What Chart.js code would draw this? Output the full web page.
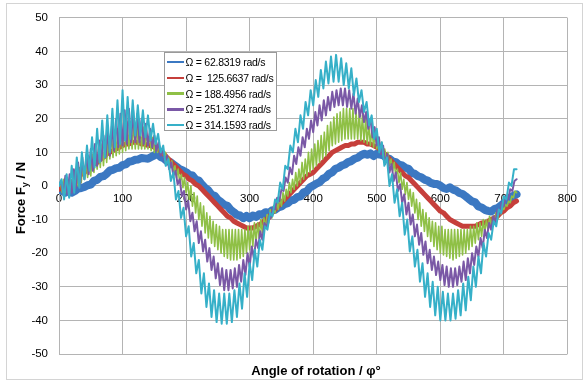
<!DOCTYPE html>
<html>
<head>
<meta charset="utf-8">
<script src="https://cdn.jsdelivr.net/npm/chart.js@4/dist/chart.umd.min.js"></script>
<style>
  html, body { margin: 0; padding: 0; background: #fff; }
  #wrap { position: relative; width: 583px; height: 381px; overflow: hidden;
          font-family: "Liberation Sans", Arial, sans-serif; color: #000; }
  #chart { position: absolute; left: 0; top: 0; }
  #frame { position: absolute; left: 6px; top: 3px; width: 575px; height: 375px;
           border: 1px solid #d4d4d4; pointer-events: none; }
  .title { position: absolute; font-weight: bold; font-size: 13px; white-space: nowrap; }
  .title sub { font-size: 9px; vertical-align: -3px; line-height: 0; }
  #ytitle { left: 20px; top: 198px; transform: translate(-50%, -50%) rotate(-90deg); }
  #xtitle { left: 316px; top: 370px; transform: translate(-50%, -50%); }
  #legend { position: absolute; left: 164px; top: 52px; width: 111px; height: 77px;
            border: 1px solid #9a9a9a; background: #fff; }
  .item { position: absolute; left: 2px; height: 14px; display: flex; align-items: center;
          font-size: 10.5px; letter-spacing: -0.25px; white-space: pre; }
  .sw { width: 17px; height: 2.5px; margin-right: 1.5px; flex: none; }
</style>
</head>
<body>
<div id="wrap">
  <canvas id="chart" width="583" height="381"></canvas>
  <div id="frame"></div>
  <div id="ytitle" class="title">Force F<sub>y</sub> / N</div>
  <div id="xtitle" class="title">Angle of rotation / φ°</div>
  <div id="legend"></div>
</div>
<script>
// Axis ticks
const xTickValues = [0, 100, 200, 300, 400, 500, 600, 700, 800];
const yTickValues = [-50, -40, -30, -20, -10, 0, 10, 20, 30, 40, 50];

// Series names (angular speed)
const seriesLabels = [
  'Ω = 62.8319 rad/s',
  'Ω =  125.6637 rad/s',
  'Ω = 188.4956 rad/s',
  'Ω = 251.3274 rad/s',
  'Ω = 314.1593 rad/s'
];

// Angle spacing of the samples in each series (degrees)
const stepOmega1 = 5;
const stepOmega2 = 5;
const stepOmega3 = 2.5;
const stepOmega4 = 10 / 3;
const stepOmega5 = 4;

// Force Fy [N], Ω = 62.8319 rad/s
const forceOmega1 = [
  -1, -1.5, -2, -1.2, -2, -1.5, -0.8, -0.6, -0.3, 0.2,
  0.4, 1.5, 1.8, 2.7, 2.9, 3.6, 4.6, 4.8, 5.3, 5.4,
  6.2, 6.4, 7.2, 7.4, 7.8, 7.9, 8.3, 8.2, 8.1, 8.6,
  9.1, 9.6, 8.6, 8.2, 7.4, 7.1, 6.4, 5.7, 5, 4.6,
  4.1, 3.3, 3.1, 1.9, 1.6, 0.4, -0.6, -1.3, -2.6, -2.9,
  -4.1, -4.8, -5.6, -5.9, -7.1, -7.8, -8.6, -8.8, -9.6, -8.9,
  -9.6, -8.8, -9.2, -8.4, -8.6, -7.8, -8.1, -7.3, -7.1, -6.4,
  -6.1, -5.4, -5.1, -4.3, -4.1, -3.3, -3.1, -1.9, -1.6, -0.4,
  0.1, 0.7, 1.1, 2.1, 2.6, 3.6, 4.1, 5.1, 5.4, 6.1,
  6.4, 7.1, 7.4, 8.1, 8.4, 9.1, 9.6, 9.3, 9.7, 8.9,
  9.6, 9.3, 9.1, 8.4, 8.1, 7.3, 7.1, 6.3, 6.1, 5.4,
  5.1, 3.9, 3.6, 2.9, 2.6, 1.9, 1.6, 0.9, 0.6, 0.6,
  0.1, -0.6, -0.9, -0.4, -1.1, -1.4, -2.1, -2.4, -3.1, -3.9,
  -4.6, -4.9, -6.1, -6.4, -7.1, -7.4, -7.6, -6.9, -6.6, -5.9,
  -5.1, -4.4, -3.6, -2.9, -2.5
];

// Force Fy [N], Ω = 125.6637 rad/s
const forceOmega2 = [
  -1, -0.5, 0, 0.5, 1, 2, 2.5, 3.5, 4, 5,
  5.5, 6.5, 7, 8, 8.5, 9.5, 10, 10.5, 11, 11.5,
  12, 12.5, 12.5, 13, 13, 13, 12.5, 12.5, 12, 12,
  11.5, 11, 10.5, 9.5, 8.5, 7.5, 6.5, 5.5, 4.5, 3.5,
  3, 2, 1.5, 0.5, 0, -1, -2, -3, -4, -5,
  -6, -7, -8, -9, -9.5, -10.5, -11, -11.5, -12, -12.5,
  -12.5, -12.5, -12, -11.5, -11, -10, -9.5, -8, -7, -6,
  -5, -4, -3, -2, -1, 0, 1, 2, 3, 3.5,
  4, 5, 6, 7, 8, 9, 10, 10.5, 11, 11.5,
  12, 12, 12.5, 12.5, 13, 13, 13, 12.5, 12.5, 12,
  11.5, 11, 10, 9, 8, 7, 6, 5, 4, 3,
  2.5, 1.5, 0.5, -0.5, -1.5, -2.5, -3.5, -4.5, -5.5, -6.5,
  -7.5, -8, -9, -10, -10.5, -11, -11.5, -12, -12, -12,
  -12, -12, -11.5, -11, -11, -10.5, -10, -9.5, -9, -8,
  -7.5, -6.5, -6, -5, -4.5
];

// Force Fy [N], Ω = 188.4956 rad/s
const forceOmega3 = [
  0, 1, -2, 2, -2, 2, -1.5, 3,
  -1, 3.5, -0.5, 4.5, 0, 5.5, 1, 6.5,
  2, 7.5, 2.5, 8.5, 3, 9.5, 4, 10.5,
  5, 11.5, 5.5, 12.5, 6, 13.5, 7, 14.5,
  8, 15.5, 8.5, 16.5, 9, 17, 9.5, 18,
  10, 18, 10.5, 19, 11, 19, 11, 19,
  11, 19, 11, 18, 11, 17.5, 11, 16.5,
  11, 15.5, 10.5, 14.5, 10, 13.5, 10, 12.5,
  10, 11, 8.5, 10, 7, 8.5, 5.5, 7.5,
  4, 6, 2.5, 5, 1, 3.5, -0.5, 2.5,
  -2, 1, -4, 0, -6, -2, -8, -3,
  -10, -5, -12, -6, -14, -8, -15.5, -9,
  -17, -10.5, -18, -11.5, -19, -12, -20, -13,
  -21, -13, -21.5, -13, -22, -13, -22, -13,
  -22, -13, -21.5, -13, -21, -13, -20, -12,
  -19, -12, -18, -11, -17, -11, -15.5, -10,
  -14, -9.5, -12.5, -8.5, -11, -7, -9.5, -6,
  -8, -4.5, -7, -3.5, -6, -2, -4.5, -1,
  -3, 1, -2, 2, -1, 4, 0, 5,
  1, 7, 2, 8, 3, 10, 4, 11,
  5, 12.5, 6, 13.5, 7, 15, 8, 16,
  9, 18, 10.5, 19, 12, 20.5, 12.5, 21.5,
  13, 22, 13.5, 23, 14, 23, 14, 23,
  14, 23, 14, 22, 14, 22, 13.5, 21,
  13, 20, 12.5, 18.5, 12, 17, 11.5, 16,
  11, 14, 10, 13, 9, 11, 7.5, 10,
  6, 8, 4.5, 7, 3, 5, 1, 4,
  -1, 2, -2.5, 1, -4, -1, -6, -2,
  -8, -4, -10, -5, -12, -7, -13.5, -8,
  -15, -9.5, -16.5, -10.5, -18, -11, -19, -12,
  -20, -12, -20.5, -13, -21, -13, -21.5, -13,
  -22, -13, -21.5, -13, -21, -13, -20.5, -13,
  -20, -13, -19, -12, -18, -12, -17, -11,
  -16, -11, -15, -10, -14, -10, -13, -9,
  -12, -9, -11, -8, -10, -7.5, -8.5, -6.5,
  -7, -5.5, -6, -4.5, -5, -3, -3.5, -1.5,
  -2
];

// Force Fy [N], Ω = 251.3274 rad/s
const forceOmega4 = [
  0, 1.5, -2.5, 3, -2.5, 3.5, -2, 5, -0.5, 7, 0.5, 8.5,
  2, 9.5, 3.5, 11, 4.5, 12.5, 6, 13.5, 7.5, 15, 8.5, 16.5,
  9, 18, 10.5, 20, 11.5, 21.5, 12, 22.5, 12.5, 23, 13, 22.5,
  13, 21.5, 13, 20, 12.5, 18.5, 12, 17, 11.5, 15, 10.5, 13,
  9, 11, 7, 9, 5, 7, 3, 4.5, 0.5, 2, -3, -1.5,
  -7, -4.5, -10.5, -8, -13.5, -10.5, -17, -13.5, -19.5, -16, -22.5, -18.5,
  -25, -21, -27.5, -23, -29.5, -24.5, -31, -25, -31, -25, -30.5, -24.5,
  -30, -23.5, -28.5, -22, -26.5, -20, -24, -18, -21.5, -16, -18.5, -13.5,
  -16, -11, -12.5, -9, -9.5, -6.5, -7, -3.5, -4.5, -1, -1.5, 2.5,
  1, 5.5, 3.5, 9, 6.5, 11.5, 9, 14.5, 11.5, 17, 14, 19.5,
  16, 22, 18, 24, 19.5, 25.5, 21, 26.5, 22.5, 28, 23.5, 28.5,
  24, 29, 24, 29, 23.5, 28.5, 23, 27.5, 21.5, 26, 20.5, 24,
  19, 22, 17, 20, 14.5, 17.5, 12, 14.5, 9.5, 12, 6.5, 9.5,
  4, 6.5, 1.5, 4, -1.5, 0.5, -5, -2.5, -8.5, -5, -11.5, -8.5,
  -15, -11.5, -17.5, -14, -20.5, -16.5, -23, -19, -25, -21, -26.5, -22.5,
  -28, -23.5, -29.5, -24, -30, -24.5, -30, -24.5, -29.5, -24, -28.5, -22.5,
  -28, -21.5, -26, -20, -23.5, -18, -21, -15.5, -18.5, -13, -15.5, -11,
  -13, -9, -11, -7, -8.5, -5, -6, -3, -4, -1, -1.5, 1.5,
  2
];

// Force Fy [N], Ω = 314.1593 rad/s
const forceOmega5 = [
  0, 2, -4, 3.5, -3.5, 6, -2, 8.5, -0.5, 10,
  2, 12, 4.5, 14.5, 5.5, 17, 7, 19.5, 8.5, 21,
  10, 23, 11.5, 25.5, 12.5, 28.5, 13.5, 26.5, 14, 25.5,
  15, 24, 15, 22.5, 14.5, 21, 13.5, 18.5, 12.5, 15.5,
  10, 12, 6, 8, 1.5, 4, -4, -1.5, -9.5, -6.5,
  -15, -12, -21, -17, -26, -22, -32, -26, -36, -29,
  -39, -31, -40.5, -32, -41, -32, -41, -32, -40.5, -31,
  -39, -29, -36.5, -26, -33, -23, -28, -19, -24, -16,
  -19, -12, -13, -8, -9, -4, -5, 1, -1, 6,
  5, 12, 10, 17, 13, 21, 17, 25, 21, 28.5,
  24, 31.5, 26.5, 34.5, 29, 37, 30.5, 38.5, 31, 39,
  31, 38, 30, 36.5, 29, 35, 27, 32, 25, 28.5,
  22, 25, 18, 21, 14, 17, 10, 13, 6, 8.5,
  0, 3.5, -5, -1, -9, -5, -14.5, -10, -19.5, -15,
  -24, -19, -28.5, -23, -33, -26, -36, -28.5, -38.5, -30,
  -40, -31.5, -40, -32, -40, -32, -39.5, -31, -38.5, -29,
  -37, -27, -34, -24, -30, -21, -26, -17, -21, -14,
  -16, -10.5, -12, -7, -8, -3, -4, 1, 0, 5,
  5
];

const seriesValues = [forceOmega1, forceOmega2, forceOmega3, forceOmega4, forceOmega5];
const seriesSteps = [stepOmega1, stepOmega2, stepOmega3, stepOmega4, stepOmega5];
const seriesColors = ['#3b78c2', '#c63f3b', '#8fc046', '#7a58a6', '#36b0c8'];
const seriesWidths = [8, 5, 1.6, 2, 2];

function toPoints(values, step) {
  return values.map((v, i) => ({ x: i * step, y: v }));
}

const datasets = seriesValues.map((vals, k) => ({
  label: seriesLabels[k],
  data: toPoints(vals, seriesSteps[k]),
  borderColor: seriesColors[k],
  backgroundColor: seriesColors[k],
  borderWidth: seriesWidths[k],
  pointRadius: 0,
  tension: 0,
  fill: false,
  borderJoinStyle: 'round',
  borderCapStyle: 'round',
  // first series at the bottom, last series drawn on top
  order: seriesValues.length - k
}));

const gridColor = '#b4b4b4';
const tickFont = { family: '"Liberation Sans", Arial, sans-serif', size: 11.5 };

new Chart(document.getElementById('chart'), {
  type: 'line',
  data: { datasets },
  options: {
    responsive: false,
    animation: false,
    devicePixelRatio: 1,
    layout: { padding: { left: 6, right: 10, top: 14, bottom: 27 } },
    plugins: { legend: { display: false }, tooltip: { enabled: false } },
    scales: {
      x: {
        type: 'linear',
        position: { y: 0 },
        min: xTickValues[0],
        max: xTickValues[xTickValues.length - 1],
        afterBuildTicks: (s) => { s.ticks = xTickValues.map(v => ({ value: v })); },
        afterFit: (s) => { s.height = 0; },
        grid: { color: gridColor, drawTicks: false, lineWidth: 1 },
        border: { color: gridColor, width: 1 },
        ticks: { color: '#000', font: tickFont, padding: 6, autoSkip: false, maxRotation: 0 }
      },
      y: {
        type: 'linear',
        position: 'left',
        min: yTickValues[0],
        max: yTickValues[yTickValues.length - 1],
        afterBuildTicks: (s) => { s.ticks = yTickValues.map(v => ({ value: v })); },
        afterFit: (s) => { s.width = 53; },
        grid: { color: gridColor, drawTicks: false, lineWidth: 1 },
        border: { color: gridColor, width: 1 },
        ticks: { color: '#000', font: tickFont, padding: 11 }
      }
    }
  }
});

// Legend box inside the plot
const legend = document.getElementById('legend');
seriesLabels.forEach((name, k) => {
  const item = document.createElement('div');
  item.className = 'item';
  item.style.top = (2 + k * 15.8) + 'px';
  const sw = document.createElement('span');
  sw.className = 'sw';
  sw.style.background = seriesColors[k];
  const tx = document.createElement('span');
  tx.textContent = name;
  item.appendChild(sw);
  item.appendChild(tx);
  legend.appendChild(item);
});
</script>
</body>
</html>
